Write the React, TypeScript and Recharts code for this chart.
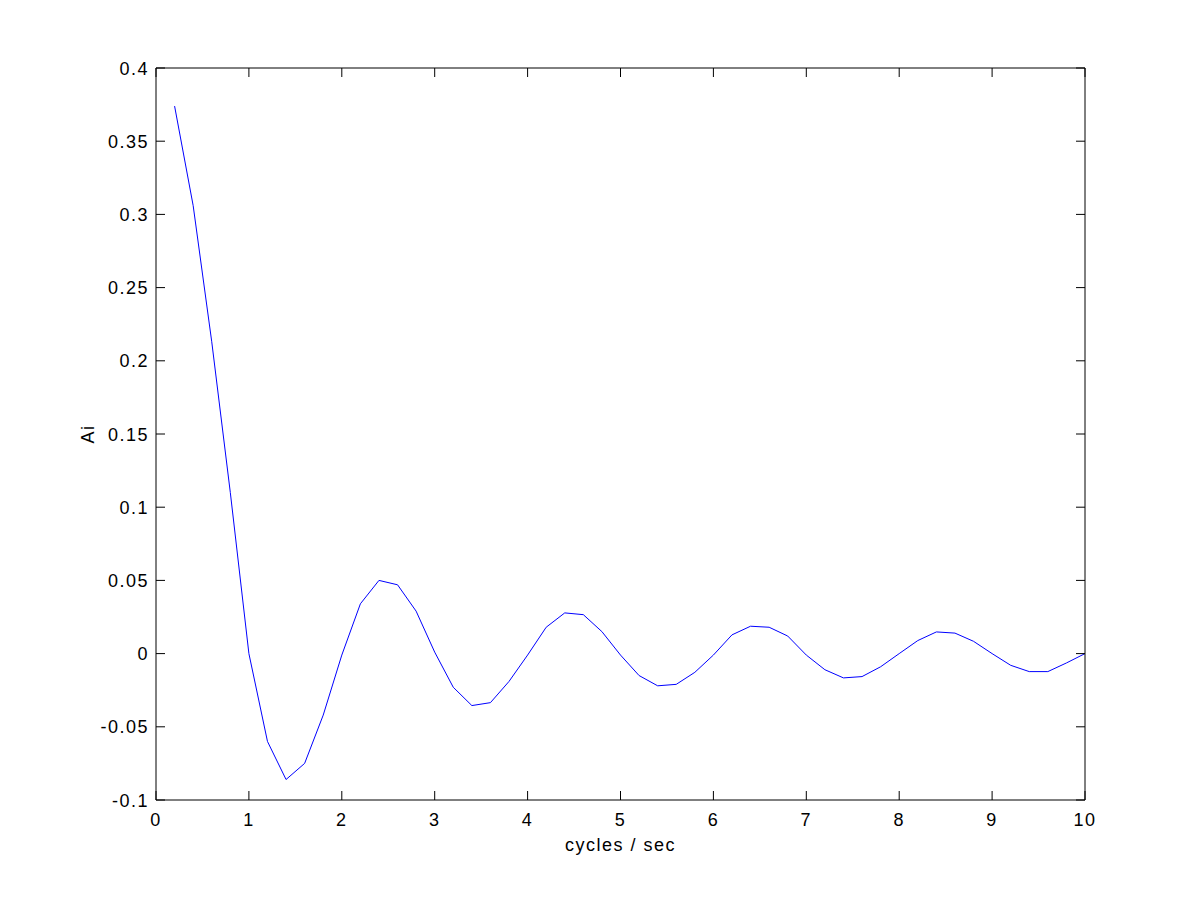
import React from "react";
import { LineChart, Line, XAxis, YAxis } from "recharts";

const freq = [
  0.2, 0.4, 0.6, 0.8, 1.0, 1.2, 1.4, 1.6, 1.8, 2.0,
  2.2, 2.4, 2.6, 2.8, 3.0, 3.2, 3.4, 3.6, 3.8, 4.0,
  4.2, 4.4, 4.6, 4.8, 5.0, 5.2, 5.4, 5.6, 5.8, 6.0,
  6.2, 6.4, 6.6, 6.8, 7.0, 7.2, 7.4, 7.6, 7.8, 8.0,
  8.2, 8.4, 8.6, 8.8, 9.0, 9.2, 9.4, 9.6, 9.8, 10.0,
];

const ai = [
  0.374, 0.306, 0.213, 0.11, 0.0, -0.06, -0.086, -0.075, -0.042, -0.001,
  0.034, 0.05, 0.047, 0.029, 0.001, -0.023, -0.0355, -0.0335, -0.019, -0.001,
  0.018, 0.0278, 0.0266, 0.015, -0.001, -0.015, -0.022, -0.021, -0.0128, -0.001,
  0.0128, 0.0187, 0.018, 0.012, -0.001, -0.011, -0.0166, -0.0157, -0.009, 0.0,
  0.0089, 0.0148, 0.014, 0.0084, 0.0, -0.008, -0.0123, -0.0123, -0.0064, 0.0,
];

const xTicks = [0, 1, 2, 3, 4, 5, 6, 7, 8, 9, 10];
const yTicks = [-0.1, -0.05, 0, 0.05, 0.1, 0.15, 0.2, 0.25, 0.3, 0.35, 0.4];

const data = freq.map((f, i) => ({ f, ai: ai[i] }));

const font = "'Liberation Sans', Arial, sans-serif";
const TICK = 9;
// recharts puts the tick anchor tickSize + tickMargin away from the axis line
const SIZE = 10;
const MARGIN = 5;
const GAP = SIZE + MARGIN;
const textProps = { fill: "#000", fontSize: 18, fontFamily: font, letterSpacing: 1.5 };
const fmtY = (v: number) => String(+v.toFixed(2));

// ticks point into the plot box, MATLAB style
const BottomTick = (p: any) => {
  const y0 = p.y - GAP;
  return (
    <g>
      <line x1={p.x} x2={p.x} y1={y0} y2={y0 - TICK} stroke="#000" />
      <text x={p.x} y={y0 + 26} textAnchor="middle" {...textProps}>
        {String(p.payload.value)}
      </text>
    </g>
  );
};

const LeftTick = (p: any) => {
  const x0 = p.x + GAP;
  return (
    <g>
      <line x1={x0} x2={x0 + TICK} y1={p.y} y2={p.y} stroke="#000" />
      <text x={x0 - 7} y={p.y + 6.5} textAnchor="end" {...textProps}>
        {fmtY(p.payload.value)}
      </text>
    </g>
  );
};

const TopTick = (p: any) => {
  const y0 = p.y + GAP;
  return <line x1={p.x} x2={p.x} y1={y0} y2={y0 + TICK} stroke="#000" />;
};

const RightTick = (p: any) => {
  const x0 = p.x - GAP;
  return <line x1={x0} x2={x0 - TICK} y1={p.y} y2={p.y} stroke="#000" />;
};

export default function App() {
  return (
    <div style={{ position: "absolute", left: 0, top: 0, width: 1200, height: 900, background: "#fff" }}>
      <LineChart
        width={1200}
        height={900}
        data={data}
        margin={{ top: 67, right: 114, bottom: 40, left: 20 }}
      >
        <XAxis
          dataKey="f"
          type="number"
          domain={[0, 10]}
          ticks={xTicks}
          allowDataOverflow
          height={60}
          stroke="#000"
          tickLine={false}
          tickSize={SIZE}
          tickMargin={MARGIN}
          tick={BottomTick}
          label={{ value: "cycles / sec", position: "insideBottom", offset: 9, ...textProps }}
        />
        <XAxis
          xAxisId="top"
          dataKey="f"
          type="number"
          orientation="top"
          domain={[0, 10]}
          ticks={xTicks}
          allowDataOverflow
          height={1}
          stroke="#000"
          tickLine={false}
          tickSize={SIZE}
          tickMargin={MARGIN}
          tick={TopTick}
        />
        <YAxis
          type="number"
          domain={[-0.1, 0.4]}
          ticks={yTicks}
          allowDataOverflow
          width={136}
          stroke="#000"
          tickLine={false}
          tickSize={SIZE}
          tickMargin={MARGIN}
          tick={LeftTick}
          label={{ value: "Ai", angle: -90, position: "center", ...textProps }}
        />
        <YAxis
          yAxisId="right"
          dataKey="ai"
          type="number"
          orientation="right"
          domain={[-0.1, 0.4]}
          ticks={yTicks}
          allowDataOverflow
          interval={0}
          width={1}
          stroke="#000"
          tickLine={false}
          tickSize={SIZE}
          tickMargin={MARGIN}
          tick={RightTick}
        />
        <Line
          type="linear"
          dataKey="ai"
          stroke="#0000ff"
          strokeWidth={1}
          dot={false}
          activeDot={false}
          isAnimationActive={false}
        />
      </LineChart>
    </div>
  );
}
